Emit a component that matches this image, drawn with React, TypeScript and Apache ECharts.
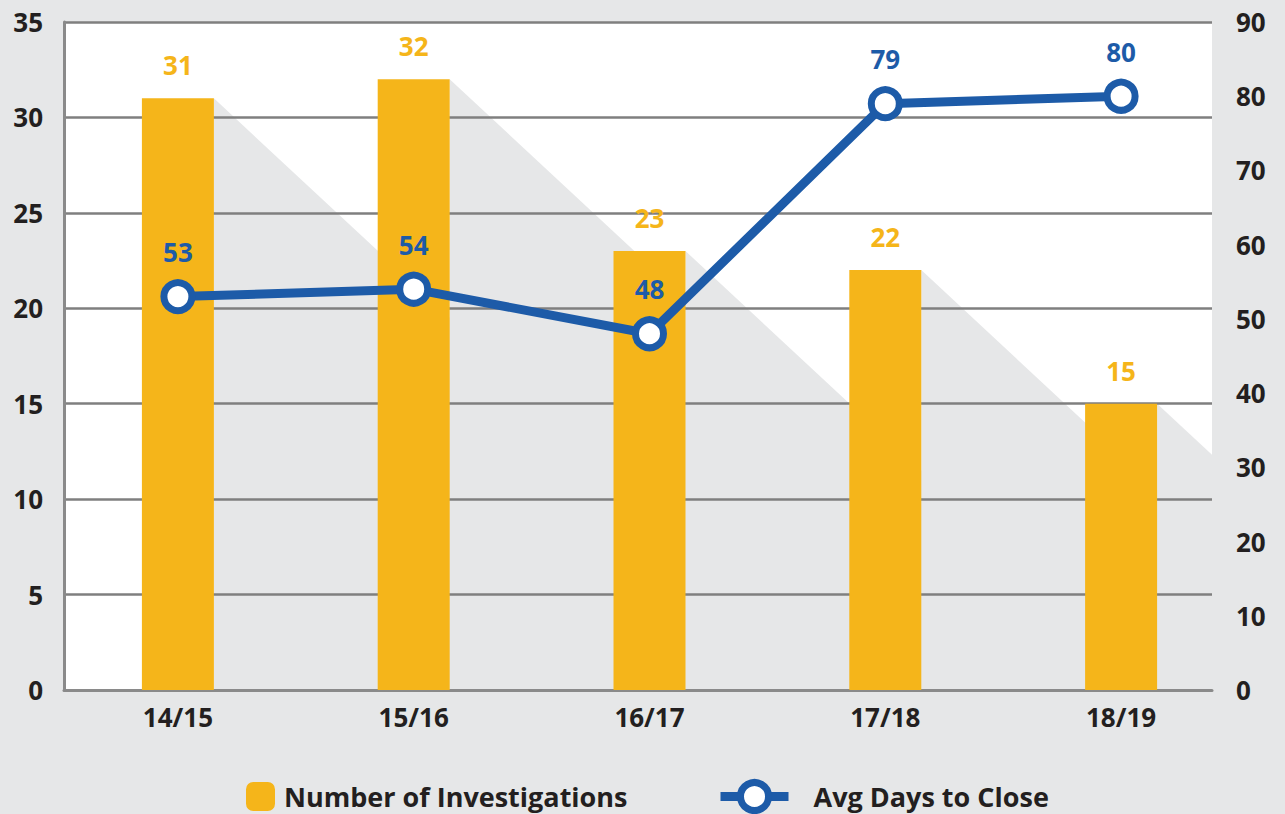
import React, { useEffect, useRef } from "react";
import * as echarts from "echarts";

const categories = ["14/15", "15/16", "16/17", "17/18", "18/19"];
const investigations = [31, 32, 23, 22, 15];
const avgDays = [53, 54, 48, 79, 80];
const leftTicks = { min: 0, max: 35, interval: 5 };
const rightTicks = { min: 0, max: 90, interval: 10 };

const ORANGE = "#f5b51a";
const BLUE = "#1d5ba8";
const BG = "#e6e7e8";
const TEXT = "#231f20";
const GRID = "#7f7f7f";
const FONT = "'Open Sans', sans-serif";
const BAR_W = 72;
const SLOPE = 0.93;
const PLOT = { left: 64, right: 73, top: 22, bottom: 124 };
const SERIES_GRID = { left: 60, right: 46, top: 22, bottom: 124 };

export default function App() {
  const ref = useRef<HTMLDivElement>(null);
  useEffect(() => {
    const chart = echarts.init(ref.current!, null, { renderer: "svg" });
    const labelStyle = { fontFamily: FONT, fontWeight: 700, fontSize: 26, color: TEXT };
    const legendText = { fontFamily: FONT, fontWeight: 700, fontSize: 27, color: TEXT };
    chart.setOption({
      animation: false,
      backgroundColor: BG,
      grid: [
        { ...PLOT, show: true, backgroundColor: "#ffffff", borderWidth: 0 },
        { ...SERIES_GRID, show: false },
      ],
      legend: [
        {
          data: ["Number of Investigations"],
          left: 246,
          top: 782,
          padding: 0,
          itemWidth: 29,
          itemHeight: 29,
          itemGap: 10,
          textStyle: { ...legendText, padding: [0, 0, 0, 4] },
          selectedMode: false,
        },
        {
          data: ["Avg Days to Close"],
          left: 716,
          top: 779,
          padding: 0,
          itemWidth: 68,
          itemHeight: 35,
          itemGap: 10,
          textStyle: { ...legendText, padding: [0, 0, 0, 20] },
          selectedMode: false,
          lineStyle: { width: 9, color: BLUE },
          itemStyle: { color: "#ffffff", borderColor: BLUE, borderWidth: 7 },
        },
      ],
      xAxis: [
        {
          type: "category",
          gridIndex: 0,
          data: categories,
          z: 2,
          axisTick: { show: false },
          axisLine: { lineStyle: { color: "#8a8a8a", width: 3 } },
          axisLabel: { show: false },
        },
        {
          type: "category",
          gridIndex: 1,
          data: categories,
          z: 2,
          axisTick: { show: false },
          axisLine: { show: false },
          axisLabel: { ...labelStyle, margin: 14 },
        },
      ],
      yAxis: [
        {
          type: "value",
          gridIndex: 0,
          ...leftTicks,
          z: 2,
          axisLine: { show: true, lineStyle: { color: "#8a8a8a", width: 3 } },
          axisTick: { show: false },
          splitLine: { lineStyle: { color: GRID, width: 2.5 } },
          axisLabel: { ...labelStyle, margin: 21 },
        },
        {
          type: "value",
          gridIndex: 0,
          ...rightTicks,
          z: 2,
          position: "right",
          axisLine: { show: false },
          axisTick: { show: false },
          splitLine: { show: false },
          axisLabel: { ...labelStyle, margin: 24 },
        },
        {
          type: "value",
          gridIndex: 1,
          ...leftTicks,
          show: false,
          splitLine: { show: false },
        },
        {
          type: "value",
          gridIndex: 1,
          ...rightTicks,
          position: "right",
          show: false,
          splitLine: { show: false },
        },
      ],
      series: [
        {
          type: "custom",
          z: 1,
          silent: true,
          xAxisIndex: 1,
          yAxisIndex: 2,
          data: investigations.map((v, i) => [i, v]),
          encode: { x: 0, y: 1 },
          renderItem: (params: any, api: any) => {
            const pt = api.coord([api.value(0), api.value(1)]);
            const base = api.coord([api.value(0), 0]);
            const right = api.getWidth() - PLOT.right;
            const xr = pt[0] + BAR_W / 2;
            const ytop = pt[1];
            const yb = base[1];
            const dx = (yb - ytop) / SLOPE;
            let points;
            if (xr + dx <= right) {
              points = [[xr, ytop], [xr + dx, yb], [xr, yb]];
            } else {
              points = [[xr, ytop], [right, ytop + (right - xr) * SLOPE], [right, yb], [xr, yb]];
            }
            return { type: "polygon", shape: { points }, style: { fill: BG } };
          },
        },
        {
          name: "Number of Investigations",
          type: "bar",
          z: 3,
          xAxisIndex: 1,
          yAxisIndex: 2,
          data: investigations,
          barWidth: BAR_W,
          itemStyle: { color: ORANGE },
          label: { show: true, position: "top", distance: 20, ...labelStyle, color: ORANGE },
        },
        {
          name: "Avg Days to Close",
          type: "line",
          z: 4,
          xAxisIndex: 1,
          yAxisIndex: 3,
          data: avgDays,
          symbol: "circle",
          symbolSize: 28,
          lineStyle: { color: BLUE, width: 9 },
          itemStyle: { color: "#ffffff", borderColor: BLUE, borderWidth: 7 },
          label: { show: true, position: "top", distance: 14, ...labelStyle, color: BLUE },
        },
      ],
    });
    return () => chart.dispose();
  }, []);
  return <div ref={ref} style={{ position: "absolute", left: 0, top: 0, width: 1285, height: 814 }} />;
}
